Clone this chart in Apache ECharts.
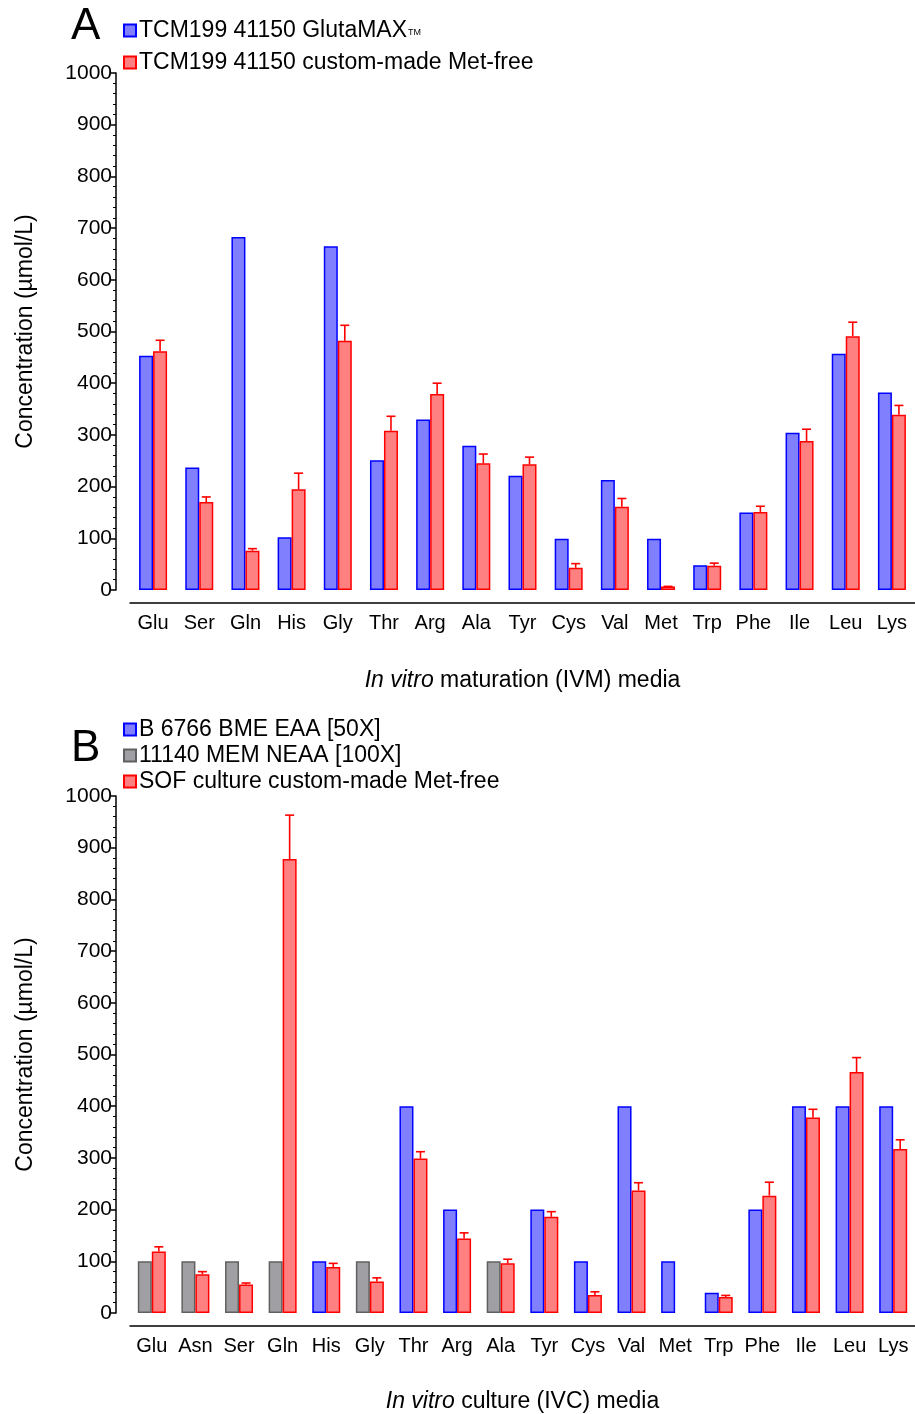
<!DOCTYPE html>
<html>
<head>
<meta charset="utf-8">
<script src="https://cdn.jsdelivr.net/npm/echarts@6/dist/echarts.min.js"></script>
<style>html,body{margin:0;padding:0;background:#fff}#c{width:915px;height:1414px}</style>
</head>
<body>
<div id="c"></div>
<script>
// ---------- Panel A data ----------
const catsA = ['Glu','Ser','Gln','His','Gly','Thr','Arg','Ala','Tyr','Cys','Val','Met','Trp','Phe','Ile','Leu','Lys'];
const glutamaxA = [453,237,683,102,665,251,330,279,221,99,213,99,48,150,304,457,382];
const metFreeA  = [462,170,76,195,482,308,379,245,243,43,161,7,47,151,288,491,339];
const metFreeErrA = [21,10,4,31,30,28,21,18,14,8,16,0,5,11,23,27,18];
// ---------- Panel B data ----------
const catsB = ['Glu','Asn','Ser','Gln','His','Gly','Thr','Arg','Ala','Tyr','Cys','Val','Met','Trp','Phe','Ile','Leu','Lys'];
const eaaB  = [null,null,null,null,100,null,400,200,null,200,100,400,100,39,200,400,400,400];
const neaaB = [100,100,100,100,null,100,null,null,100,null,null,null,null,null,null,null,null,null];
const sofB  = [119,75,55,878,89,61,299,144,96,186,35,237,null,31,227,378,466,317];
const sofErrB = [9,5,3,85,7,7,13,11,8,10,6,15,null,3,26,16,28,18];
const yTicks = [0,100,200,300,400,500,600,700,800,900,1000];

const FONT = 'Liberation Sans, Arial, sans-serif';
const BW = 14;
const BLUE = {color:'#8080ff', borderColor:'#0000ff', borderWidth:1.5};
const RED  = {color:'#ff8080', borderColor:'#ff0000', borderWidth:1.5};
const GRAY = {color:'#a0a0a4', borderColor:'#606060', borderWidth:1.5};

function errData(mean, err){
  return mean.map((m,i)=> (m==null||err[i]==null) ? null : [i, m+err[i], m]).filter(d=>d);
}
function errRender(params, api){
  const x = api.value(0), top = api.value(1), mean = api.value(2);
  const p1 = api.coord([x, mean]);
  const p2 = api.coord([x, top]);
  const cx = p1[0] + BW/2;
  const st = {stroke:'#ff0000', lineWidth:1.6};
  return {type:'group', children:[
    {type:'line', shape:{x1:cx,y1:p1[1],x2:cx,y2:p2[1]}, style:st},
    {type:'line', shape:{x1:cx-4.5,y1:p2[1],x2:cx+4.5,y2:p2[1]}, style:st}
  ]};
}
function xAx(cats, grid, nameRich, gap){
  return {
    type:'category', data:cats, gridIndex:grid, offset:13,
    axisLine:{onZero:false, lineStyle:{color:'#000', width:1.5}},
    axisTick:{alignWithLabel:true, length:5, lineStyle:{color:'#000', width:1.5}},
    axisLabel:{color:'#000', fontSize:20, fontFamily:FONT, margin:10, interval:0},
    name:nameRich, nameLocation:'middle', nameGap:gap,
    nameTextStyle:{color:'#000', fontSize:23, fontFamily:FONT, rich:{i:{fontStyle:'italic', fontSize:23, fontFamily:FONT, color:'#000'}}}
  };
}
function yAx(grid){
  return {
    type:'value', gridIndex:grid, min:yTicks[0], max:yTicks[yTicks.length-1], interval:yTicks[1]-yTicks[0],
    offset:14,
    axisLine:{show:true, lineStyle:{color:'#000', width:1.5}},
    axisTick:{show:true, length:5, lineStyle:{color:'#000', width:1.5}},
    minorTick:{show:true, splitNumber:5, length:3, lineStyle:{color:'#000', width:1}},
    splitLine:{show:false},
    axisLabel:{color:'#000', fontSize:21, fontFamily:FONT, margin:4, formatter:function(v){return String(v);}},
    name:'Concentration (µmol/L)', nameLocation:'middle', nameGap:79,
    nameTextStyle:{color:'#000', fontSize:23, fontFamily:FONT}
  };
}

const option = {
  animation:false,
  backgroundColor:'#fff',
  title:[
    {text:'A', left:66, top:0, textStyle:{fontSize:44, fontWeight:'normal', fontFamily:FONT, color:'#000'}},
    {text:'B', left:66, top:722, textStyle:{fontSize:44, fontWeight:'normal', fontFamily:FONT, color:'#000'}}
  ],
  legend:[
    {orient:'vertical', left:118, top:14, itemWidth:12, itemHeight:12, itemGap:9, icon:'rect',
     data:['TCM199 41150 GlutaMAX','TCM199 41150 custom-made Met-free'],
     formatter:function(n){ return n==='TCM199 41150 GlutaMAX' ? n+'{tm|TM}' : n; },
     textStyle:{fontSize:23, fontFamily:FONT, color:'#000', padding:[0,0,0,-2], rich:{tm:{fontSize:9, fontFamily:FONT, color:'#000', padding:[4,0,0,1]}}}},
    {orient:'vertical', left:118, top:713, itemWidth:12, itemHeight:12, itemGap:3, icon:'rect',
     data:['B 6766 BME EAA [50X]','11140 MEM NEAA [100X]','SOF culture custom-made Met-free'],
     textStyle:{fontSize:23, fontFamily:FONT, color:'#000', padding:[0,0,0,-2]}}
  ],
  grid:[
    {left:130, right:0, top:73, height:517},
    {left:130, right:0, top:796, height:517}
  ],
  xAxis:[
    xAx(catsA, 0, '{i|In vitro} maturation (IVM) media', 66),
    xAx(catsB, 1, '{i|In vitro} culture (IVC) media', 64)
  ],
  yAxis:[yAx(0), yAx(1)],
  series:[
    {name:'TCM199 41150 GlutaMAX', type:'bar', xAxisIndex:0, yAxisIndex:0, data:glutamaxA, barWidth:BW, barGap:'0%', itemStyle:BLUE},
    {name:'TCM199 41150 custom-made Met-free', type:'bar', xAxisIndex:0, yAxisIndex:0, data:metFreeA, barWidth:BW, barGap:'0%', itemStyle:RED},
    {type:'custom', xAxisIndex:0, yAxisIndex:0, data:errData(metFreeA, metFreeErrA), renderItem:errRender, z:3},
    {name:'B 6766 BME EAA [50X]', type:'bar', stack:'left', xAxisIndex:1, yAxisIndex:1, data:eaaB, barWidth:BW, barGap:'0%', itemStyle:BLUE},
    {name:'11140 MEM NEAA [100X]', type:'bar', stack:'left', xAxisIndex:1, yAxisIndex:1, data:neaaB, barWidth:BW, barGap:'0%', itemStyle:GRAY},
    {name:'SOF culture custom-made Met-free', type:'bar', xAxisIndex:1, yAxisIndex:1, data:sofB, barWidth:BW, barGap:'0%', itemStyle:RED},
    {type:'custom', xAxisIndex:1, yAxisIndex:1, data:errData(sofB, sofErrB), renderItem:errRender, z:3}
  ]
};
const chart = echarts.init(document.getElementById('c'), null, {renderer:'canvas'});
chart.setOption(option);
</script>
</body>
</html>
